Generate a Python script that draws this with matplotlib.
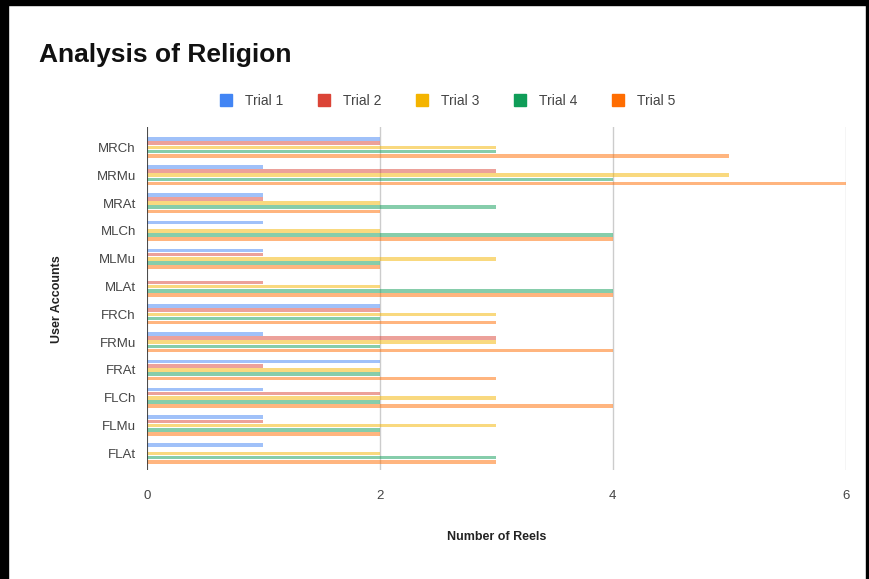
import matplotlib.pyplot as plt
import numpy as np
from matplotlib.patches import Rectangle

plt.rcParams["font.family"] = ["Liberation Sans", "DejaVu Sans"]

# Datos (de arriba hacia abajo)
cuentas = ["MRCh", "MRMu", "MRAt", "MLCh", "MLMu", "MLAt",
           "FRCh", "FRMu", "FRAt", "FLCh", "FLMu", "FLAt"]
trial_1 = [2, 1, 1, 1, 1, 0, 2, 1, 2, 1, 1, 1]
trial_2 = [2, 3, 1, 0, 1, 1, 2, 3, 1, 2, 1, 0]
trial_3 = [3, 5, 2, 2, 3, 2, 3, 3, 2, 3, 3, 2]
trial_4 = [3, 4, 3, 4, 2, 4, 2, 2, 2, 2, 2, 3]
trial_5 = [5, 6, 2, 4, 2, 4, 3, 4, 3, 4, 2, 3]
series = ["Trial 1", "Trial 2", "Trial 3", "Trial 4", "Trial 5"]
colores = ["#4285F4", "#DB4437", "#F4B400", "#0F9D58", "#FF6D01"]

fig = plt.figure(figsize=(8.7, 5.79), dpi=100)
ax = fig.add_axes([0.169, 0.188, 0.803, 0.592])

y = np.arange(len(cuentas))
alto = 0.13
paso = 0.15
valores = [trial_1, trial_2, trial_3, trial_4, trial_5]
for i, (vals, nombre, color) in enumerate(zip(valores, series, colores)):
    ax.barh(y + (i - 2) * paso, vals, height=alto, color=color,
            alpha=0.5, label=nombre, linewidth=0)

ax.set_ylim(11.6, -0.72)
ax.set_xlim(0, 6)
ax.set_xticks([0, 2, 4, 6])
ax.set_yticks(y)
ax.set_yticklabels(cuentas)
ax.tick_params(axis="both", length=0, labelsize=9.5, colors="#444444")
ax.tick_params(axis="x", pad=14)
ax.tick_params(axis="y", pad=8)
for s in ax.spines.values():
    s.set_visible(False)
ax.grid(axis="x", color="#cccccc", linewidth=1)
ax.set_axisbelow(True)
ax.axvline(0, color="#333333", linewidth=1.2)

ax.set_xlabel("Number of Reels", fontsize=9, fontweight="bold",
              color="#222222", labelpad=21)
ax.set_ylabel("User Accounts", fontsize=9, fontweight="bold",
              color="#222222", labelpad=24)

fig.text(0.045, 0.905, "Analysis of Religion", fontsize=19,
         fontweight="bold", va="center", ha="left", color="#111111")

handles = [plt.Line2D([], [], marker="s", linestyle="", markersize=9,
                      color=c) for c in colores]
fig.legend(handles, series, loc="center", bbox_to_anchor=(0.51, 0.826),
           ncol=5, frameon=False, fontsize=10, handletextpad=0.4,
           columnspacing=1.9, labelcolor="#444444")

# Marco negro alrededor de la figura
fig.patches.append(Rectangle((0, 0), 0.0092, 1, transform=fig.transFigure,
                             color="black", zorder=10))
fig.patches.append(Rectangle((0, 0.991), 1, 0.009, transform=fig.transFigure,
                             color="black", zorder=10))
fig.patches.append(Rectangle((0.995, 0), 0.005, 1, transform=fig.transFigure,
                             color="black", zorder=10))

fig.savefig("out.png", dpi=100)
